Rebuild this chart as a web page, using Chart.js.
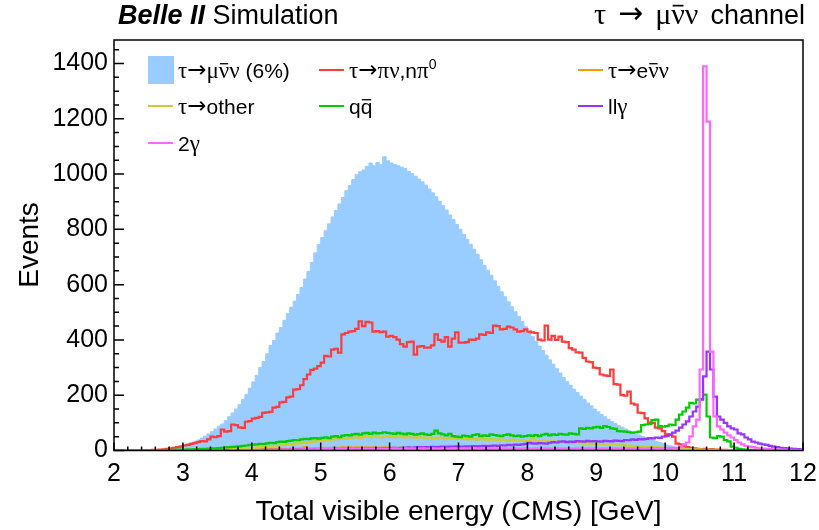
<!DOCTYPE html>
<html>
<head>
<meta charset="utf-8">
<script src="https://cdn.jsdelivr.net/npm/chart.js@4.4.1/dist/chart.umd.min.js"></script>
<style>
  html, body { margin: 0; padding: 0; background: #fff; overflow: hidden; }
  canvas { display: block; }
</style>
</head>
<body>
<canvas id="chart" width="819" height="530"></canvas>
<script>
// bins: 200 bins of 0.05 GeV from 2 to 12
const binEdges = Array.from({ length: 201 }, (_, i) => +(2 + i * 0.05).toFixed(2));
const xTickValues = [2, 3, 4, 5, 6, 7, 8, 9, 10, 11, 12];
const yTickValues = [0, 200, 400, 600, 800, 1000, 1200, 1400];

// one row = 1 GeV (20 bins)
const muNuNu = [
  0, 0, 0, 0, 0, 0, 0, 0, 0, 0, 1, 1, 2, 2, 3, 5, 7, 10, 13, 17,
  20, 24, 28, 33, 38, 45, 52, 60, 68, 78, 88, 96, 108, 122, 136, 150, 166, 185, 203, 225,
  248, 272, 300, 322, 350, 380, 398, 425, 445, 470, 495, 518, 540, 565, 590, 620, 648, 680, 715, 745,
  770, 795, 820, 845, 868, 892, 915, 940, 958, 980, 998, 1008, 1015, 1028, 1040, 1030, 1042, 1035, 1063, 1048,
  1040, 1035, 1030, 1025, 1020, 1010, 1002, 992, 982, 972, 960, 946, 932, 918, 902, 886, 870, 852, 836, 818,
  800, 782, 764, 746, 728, 710, 690, 670, 652, 634, 614, 594, 574, 556, 538, 520, 502, 485, 466, 448,
  428, 412, 395, 378, 362, 345, 328, 312, 296, 280, 264, 250, 236, 222, 210, 197, 185, 172, 162, 150,
  140, 130, 122, 113, 105, 97, 90, 84, 78, 71, 66, 60, 56, 50, 46, 42, 38, 33, 29, 25,
  20, 17, 14, 11, 9, 7, 5, 4, 3, 2, 2, 1, 1, 1, 0, 0, 0, 0, 0, 0,
  0, 0, 0, 0, 0, 0, 0, 0, 0, 0, 0, 0, 0, 0, 0, 0, 0, 0, 0, 0
];
const piNu = [
  0, 0, 0, 0, 0, 0, 0, 0, 0, 1, 1, 2, 2, 3, 4, 6, 8, 10, 12, 14,
  18, 20, 24, 27, 30, 34, 33, 40, 50, 48, 52, 76, 68, 70, 94, 92, 84, 82, 104, 106,
  115, 118, 122, 136, 138, 140, 155, 158, 174, 176, 192, 195, 220, 222, 236, 258, 275, 292, 296, 305,
  318, 342, 340, 365, 368, 354, 420, 425, 430, 432, 440, 467, 450, 465, 463, 430, 432, 428, 430, 412,
  415, 410, 401, 385, 376, 392, 394, 347, 376, 378, 372, 372, 380, 420, 400, 394, 410, 376, 405, 427,
  390, 390, 392, 401, 400, 405, 420, 418, 427, 425, 452, 450, 438, 440, 448, 445, 438, 430, 432, 438,
  430, 427, 425, 401, 398, 452, 401, 415, 400, 412, 394, 392, 370, 365, 355, 354, 335, 322, 320, 300,
  298, 275, 272, 270, 293, 240, 238, 200, 198, 213, 170, 166, 137, 135, 116, 101, 100, 83, 80, 70,
  58, 56, 50, 25, 22, 15, 12, 10, 8, 6, 5, 6, 4, 5, 3, 3, 2, 2, 1, 1,
  1, 1, 0, 0, 0, 0, 0, 0, 0, 0, 0, 0, 0, 0, 0, 0, 0, 0, 0, 0
];
const eNuNu = [
  0, 0, 0, 0, 0, 0, 0, 0, 0, 0, 0, 0, 0, 0, 0, 0, 0, 0, 0, 0,
  0, 0, 0, 0, 0, 0, 0, 0, 1, 1, 1, 1, 1, 2, 2, 2, 2, 3, 3, 3,
  3, 3, 4, 4, 4, 5, 5, 5, 6, 6, 6, 7, 7, 7, 8, 12, 8, 8, 9, 9,
  9, 10, 9, 10, 10, 10, 11, 10, 11, 10, 11, 11, 10, 11, 10, 11, 10, 10, 11, 10,
  10, 10, 9, 10, 9, 10, 9, 9, 10, 9, 9, 8, 9, 8, 9, 8, 8, 8, 7, 8,
  7, 7, 7, 7, 6, 7, 6, 6, 6, 6, 5, 6, 5, 5, 5, 5, 4, 5, 4, 4,
  4, 4, 4, 4, 3, 4, 3, 3, 3, 3, 3, 3, 2, 3, 2, 2, 2, 2, 2, 2,
  2, 2, 2, 1, 2, 1, 1, 1, 1, 1, 1, 1, 1, 1, 1, 1, 1, 0, 1, 0,
  0, 0, 0, 0, 0, 0, 0, 0, 0, 0, 0, 0, 0, 0, 0, 0, 0, 0, 0, 0,
  0, 0, 0, 0, 0, 0, 0, 0, 0, 0, 0, 0, 0, 0, 0, 0, 0, 0, 0, 0
];
const tauOther = [
  0, 0, 0, 0, 0, 0, 0, 0, 0, 0, 0, 0, 0, 0, 0, 0, 0, 0, 0, 0,
  0, 0, 1, 1, 1, 1, 2, 2, 2, 3, 3, 4, 4, 5, 5, 6, 7, 7, 8, 9,
  10, 11, 12, 13, 14, 15, 16, 18, 19, 20, 22, 23, 25, 26, 28, 29, 30, 32, 33, 35,
  36, 38, 37, 40, 41, 42, 44, 43, 46, 47, 48, 46, 50, 49, 48, 52, 50, 47, 50, 49,
  50, 48, 52, 49, 47, 50, 48, 46, 49, 47, 45, 48, 46, 44, 47, 45, 43, 46, 44, 42,
  44, 42, 40, 43, 41, 39, 42, 40, 38, 41, 39, 37, 40, 38, 36, 39, 37, 35, 38, 36,
  34, 47, 33, 35, 32, 34, 31, 33, 30, 32, 29, 30, 28, 27, 28, 26, 25, 27, 24, 25,
  23, 24, 22, 21, 22, 20, 19, 20, 18, 17, 17, 16, 15, 14, 14, 13, 12, 12, 11, 10,
  9, 8, 8, 7, 6, 6, 5, 5, 4, 4, 3, 3, 3, 2, 2, 2, 1, 1, 1, 1,
  0, 0, 0, 0, 0, 0, 0, 0, 0, 0, 0, 0, 0, 0, 0, 0, 0, 0, 0, 0
];
const qqbar = [
  0, 0, 0, 0, 0, 0, 0, 0, 0, 0, 0, 0, 1, 1, 1, 2, 2, 2, 3, 3,
  3, 4, 4, 5, 5, 6, 6, 7, 8, 8, 9, 10, 11, 12, 13, 14, 15, 17, 18, 20,
  21, 22, 24, 23, 26, 28, 27, 30, 32, 31, 34, 36, 38, 37, 40, 42, 41, 44, 45, 43,
  46, 48, 45, 50, 52, 48, 54, 56, 55, 58, 60, 57, 62, 64, 60, 65, 62, 63, 66, 64,
  62, 60, 64, 61, 58, 62, 60, 57, 59, 62, 58, 56, 60, 72, 62, 58, 55, 60, 52, 50,
  48, 54, 52, 50, 56, 58, 52, 55, 53, 58, 56, 54, 52, 56, 58, 55, 52, 54, 50, 52,
  55, 53, 56, 52, 57, 60, 55, 58, 56, 60, 58, 57, 62, 60, 58, 80, 78, 82, 80, 84,
  86, 82, 88, 85, 80, 78, 70, 69, 68, 66, 65, 66, 68, 92, 94, 96, 110, 112, 88, 86,
  88, 94, 92, 112, 130, 141, 155, 172, 170, 184, 186, 202, 123, 47, 45, 52, 50, 38, 33, 14,
  10, 6, 4, 3, 2, 2, 1, 1, 1, 0, 0, 0, 0, 0, 0, 0, 0, 0, 0, 0
];
const llGamma = [
  0, 0, 0, 0, 0, 0, 0, 0, 0, 0, 0, 0, 0, 0, 0, 0, 0, 0, 0, 0,
  0, 0, 0, 0, 0, 0, 0, 0, 0, 0, 0, 0, 1, 0, 1, 1, 0, 1, 1, 1,
  1, 1, 1, 2, 1, 2, 2, 2, 2, 3, 2, 3, 3, 3, 4, 3, 4, 4, 4, 5,
  4, 5, 5, 5, 6, 5, 6, 6, 7, 6, 7, 7, 8, 7, 8, 8, 9, 8, 9, 9,
  9, 10, 9, 10, 10, 11, 10, 11, 12, 11, 12, 12, 13, 12, 13, 14, 13, 14, 14, 15,
  14, 14, 15, 15, 16, 15, 16, 17, 16, 17, 18, 17, 19, 18, 20, 19, 21, 20, 22, 24,
  28, 26, 25, 27, 26, 25, 28, 30, 29, 32, 33, 30, 32, 31, 34, 33, 32, 35, 33, 34,
  33, 32, 35, 34, 33, 36, 35, 34, 38, 37, 40, 38, 41, 40, 42, 45, 44, 47, 46, 50,
  52, 58, 65, 72, 83, 94, 105, 123, 141, 159, 184, 268, 358, 293, 195, 123, 112, 100, 87, 80,
  76, 62, 58, 47, 40, 32, 29, 25, 22, 20, 17, 14, 12, 10, 9, 8, 7, 6, 5, 4
];
const twoGamma = [
  0, 0, 0, 0, 0, 0, 0, 0, 0, 0, 0, 0, 0, 0, 0, 0, 0, 0, 0, 0,
  0, 0, 0, 0, 0, 0, 0, 0, 0, 0, 0, 0, 0, 0, 1, 0, 1, 1, 1, 1,
  1, 1, 1, 1, 2, 2, 2, 2, 2, 3, 3, 3, 3, 3, 4, 4, 4, 4, 4, 5,
  5, 5, 5, 6, 6, 6, 6, 6, 6, 7, 7, 7, 7, 7, 7, 7, 7, 7, 7, 7,
  7, 8, 7, 7, 8, 7, 8, 7, 7, 8, 7, 7, 8, 7, 7, 8, 7, 7, 8, 7,
  7, 8, 7, 7, 8, 7, 7, 8, 7, 7, 8, 7, 7, 8, 7, 7, 8, 7, 7, 8,
  7, 7, 8, 7, 7, 8, 7, 7, 8, 7, 7, 8, 7, 7, 8, 7, 7, 8, 7, 8,
  7, 8, 8, 7, 8, 8, 7, 8, 8, 8, 8, 8, 9, 8, 8, 9, 8, 9, 9, 8,
  9, 9, 10, 10, 12, 22, 29, 51, 87, 112, 293, 1390, 1190, 358, 123, 87, 76, 65, 55, 47,
  38, 29, 22, 16, 14, 12, 10, 8, 7, 6, 5, 4, 4, 3, 3, 2, 2, 2, 1, 1
];

const SANS = "'Liberation Sans', Arial, Helvetica, sans-serif";
const SERIF = "'Liberation Serif', 'DejaVu Serif', serif";
const ARROW = "'DejaVu Sans', sans-serif";

// histogram outline: value of a bin holds from its left edge to the next edge
function toSteps(values) {
  const pts = values.map((v, i) => ({ x: binEdges[i], y: v }));
  pts.push({ x: binEdges[binEdges.length - 1], y: values[values.length - 1] });
  return pts;
}

function lineSet(label, values, color, order) {
  return {
    label, data: toSteps(values), stepped: true, fill: false,
    borderColor: color, borderWidth: 2.2, pointRadius: 0, order
  };
}

const datasets = [
  {
    label: 'τ→μν̄ν (6%)', data: toSteps(muNuNu), stepped: true, fill: 'origin',
    backgroundColor: '#99ccff', borderColor: '#99ccff', borderWidth: 1, pointRadius: 0, order: 7
  },
  lineSet('τ→πν,nπ0', piNu, '#ff3b3b', 6),
  lineSet('τ→eν̄ν', eNuNu, '#ff9900', 5),
  lineSet('τ→other', tauOther, '#cccc33', 4),
  lineSet('qq̄', qqbar, '#00cc00', 3),
  lineSet('llγ', llGamma, '#9933ff', 2),
  lineSet('2γ', twoGamma, '#ff66ff', 1)
];

// rich text: parts = [text, 'sans'|'serif'|'arrow'|'gap', flag('bar'|'sup') or gap width]
function partFont(p, size) {
  if (p[2] === 'sup') return Math.round(size * 0.65) + 'px ' + SANS;
  if (p[1] === 'serif') return Math.round(size * 1.1) + 'px ' + SERIF;
  if (p[1] === 'arrow') return Math.round(size * 1.1) + 'px ' + ARROW;
  return size + 'px ' + SANS;
}
function partWidth(ctx, p, size) {
  if (p[1] === 'gap') return p[2];
  ctx.font = partFont(p, size);
  return ctx.measureText(p[0]).width;
}
function drawRich(ctx, parts, x, y, size, align) {
  if (align === 'right') x -= parts.reduce((w, p) => w + partWidth(ctx, p, size), 0);
  ctx.textBaseline = 'alphabetic';
  ctx.textAlign = 'left';
  parts.forEach(p => {
    const w = partWidth(ctx, p, size);
    if (p[1] !== 'gap') {
      ctx.font = partFont(p, size);
      const dy = p[2] === 'sup' ? -size * 0.42 : p[1] === 'arrow' ? -size * 0.03 : 0;
      ctx.fillText(p[0], x, y + dy);
    }
    if (p[2] === 'bar') {
      ctx.save();
      ctx.lineWidth = Math.max(1, size / 16);
      ctx.strokeStyle = ctx.fillStyle;
      ctx.beginPath();
      ctx.moveTo(x + w * 0.1, y - size * 0.68);
      ctx.lineTo(x + w * 0.9, y - size * 0.68);
      ctx.stroke();
      ctx.restore();
    }
    x += w;
  });
}

const legendItems = [
  { ds: 0, col: 0, row: 0, parts: [['τ', 'serif'], ['→', 'arrow'], ['μ', 'serif'], ['ν', 'serif', 'bar'], ['ν', 'serif'], [' (6%)', 'sans']] },
  { ds: 1, col: 1, row: 0, parts: [['τ', 'serif'], ['→', 'arrow'], ['πν', 'serif'], [',n', 'sans'], ['π', 'serif'], ['0', 'sans', 'sup']] },
  { ds: 2, col: 2, row: 0, parts: [['τ', 'serif'], ['→', 'arrow'], ['e', 'sans'], ['ν', 'serif', 'bar'], ['ν', 'serif']] },
  { ds: 3, col: 0, row: 1, parts: [['τ', 'serif'], ['→', 'arrow'], ['other', 'sans']] },
  { ds: 4, col: 1, row: 1, parts: [['q', 'sans'], ['q', 'sans', 'bar']] },
  { ds: 5, col: 2, row: 1, parts: [['ll', 'sans'], ['γ', 'serif']] },
  { ds: 6, col: 0, row: 2, parts: [['2', 'sans'], ['γ', 'serif']] }
];
const legendColX = [148, 319, 578];
const legendRowY = [71, 107, 144];

const decorations = {
  id: 'decorations',
  afterDatasetsDraw(chart) {
    const { ctx, chartArea: a, scales: { x, y } } = chart;
    ctx.save();
    ctx.strokeStyle = '#000';
    ctx.lineWidth = 1.5;
    ctx.beginPath();
    for (let i = 0; i <= 50; i++) {
      const px = x.getPixelForValue(2 + i * 0.2);
      ctx.moveTo(px, a.bottom);
      ctx.lineTo(px, a.bottom - (i % 5 === 0 ? 8 : 4));
    }
    for (let i = 0; i <= 29; i++) {
      const py = y.getPixelForValue(i * 50);
      ctx.moveTo(a.left, py);
      ctx.lineTo(a.left + (i % 4 === 0 ? 10 : 5), py);
    }
    ctx.stroke();
    ctx.strokeRect(a.left, a.top, a.right - a.left, a.bottom - a.top);
    ctx.restore();
  },
  afterDraw(chart) {
    const { ctx, chartArea: a } = chart;
    ctx.save();
    ctx.fillStyle = '#000';

    // header
    ctx.textBaseline = 'alphabetic';
    ctx.textAlign = 'left';
    ctx.font = 'italic bold 27px ' + SANS;
    ctx.fillText('Belle II', 118, 24);
    const bw = ctx.measureText('Belle II ').width;
    ctx.font = '27px ' + SANS;
    ctx.fillText('Simulation', 118 + bw, 24);
    drawRich(ctx, [['τ', 'serif'], ['', 'gap', 12], ['→', 'arrow'], ['', 'gap', 12], ['μ', 'serif'], ['ν', 'serif', 'bar'], ['ν', 'serif'],
      ['', 'gap', 12], ['channel', 'sans']], 805, 24, 27, 'right');

    // axis titles
    ctx.font = '28px ' + SANS;
    ctx.textAlign = 'center';
    ctx.fillText('Total visible energy (CMS) [GeV]', (a.left + a.right) / 2, 520);
    ctx.save();
    ctx.translate(38, 245);
    ctx.rotate(-Math.PI / 2);
    ctx.fillText('Events', 0, 0);
    ctx.restore();

    // legend
    legendItems.forEach(it => {
      const ds = chart.data.datasets[it.ds];
      const mx = legendColX[it.col];
      const my = legendRowY[it.row];
      if (it.ds === 0) {
        ctx.fillStyle = ds.backgroundColor;
        ctx.fillRect(mx, my - 15, 26, 28);
      } else {
        ctx.strokeStyle = ds.borderColor;
        ctx.lineWidth = 2;
        ctx.beginPath();
        ctx.moveTo(mx, my - 1);
        ctx.lineTo(mx + 25, my - 1);
        ctx.stroke();
      }
      ctx.fillStyle = '#000';
      drawRich(ctx, it.parts, mx + 30, my + 7, 21);
    });
    ctx.restore();
  }
};

new Chart(document.getElementById('chart'), {
  type: 'line',
  data: { datasets },
  options: {
    responsive: false,
    animation: false,
    events: [],
    layout: { padding: { top: 40, right: 16, bottom: 0, left: 0 } },
    plugins: { legend: { display: false }, tooltip: { enabled: false }, title: { display: false } },
    scales: {
      x: {
        type: 'linear', min: 2, max: 12, offset: false,
        afterBuildTicks: s => { s.ticks = xTickValues.map(v => ({ value: v })); },
        afterFit: s => { s.height = 79.5; s.paddingLeft = 0; s.paddingRight = 0; },
        ticks: { font: { family: SANS, size: 25 }, color: '#000', padding: 9, maxRotation: 0, autoSkip: false, callback: v => String(v) },
        grid: { display: false, drawTicks: false, offset: false },
        border: { display: false }
      },
      y: {
        type: 'linear', min: 0, max: 1485,
        afterBuildTicks: s => { s.ticks = yTickValues.map(v => ({ value: v })); },
        afterFit: s => { s.width = 114; s.paddingTop = 0; s.paddingBottom = 0; },
        ticks: { font: { family: SANS, size: 25 }, color: '#000', padding: 6, autoSkip: false, callback: v => String(v) },
        grid: { display: false, drawTicks: false },
        border: { display: false }
      }
    }
  },
  plugins: [decorations]
});
</script>
</body>
</html>
